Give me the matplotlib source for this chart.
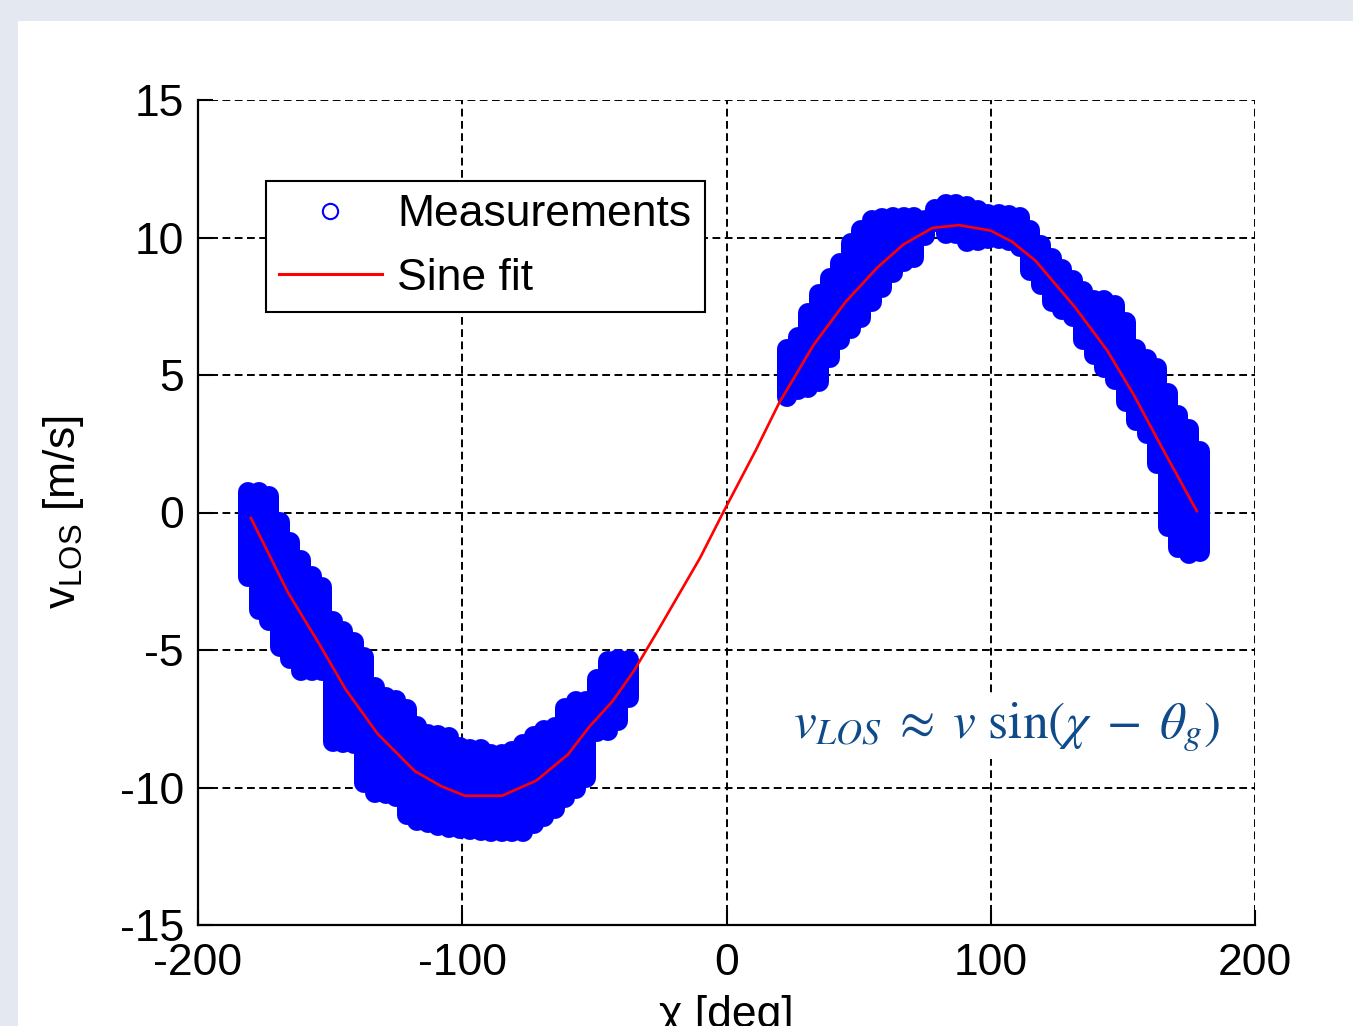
import matplotlib
matplotlib.use('Agg')
import matplotlib.pyplot as plt
from matplotlib.lines import Line2D
from matplotlib.patches import Rectangle

# measurement cloud, read column by column: angle [deg], upper / lower extent [m/s]
meas_x_left = [-181, -177, -173, -169, -165, -161, -157, -153, -149, -145, -141, -137,
               -133, -129, -125, -121, -117, -113, -109, -105, -101, -97, -93, -89,
               -85, -81, -77, -73, -69, -65, -61, -57, -53, -49, -45, -41, -37]
meas_top_left = [0.74, 0.74, 0.59, -0.36, -1.06, -1.71, -2.31, -2.71, -3.96, -4.31, -4.71, -5.26,
                 -6.36, -6.71, -6.81, -7.16, -7.76, -8.06, -8.08, -8.16, -8.53, -8.59, -8.59, -8.77,
                 -8.77, -8.66, -8.41, -8.11, -7.92, -7.81, -7.11, -6.87, -6.87, -6.06, -5.41, -5.32, -5.36]
meas_bot_left = [-2.35, -3.55, -3.95, -4.9, -5.34, -5.75, -5.75, -5.75, -8.34, -8.39, -8.42, -9.84,
                 -10.19, -10.24, -10.34, -10.99, -11.2, -11.29, -11.39, -11.49, -11.51, -11.54, -11.57, -11.63,
                 -11.63, -11.63, -11.63, -11.34, -11.09, -10.79, -10.39, -10.04, -9.64, -7.99, -7.94, -7.59, -6.74]

meas_x_right = [23, 27, 31, 35, 39, 43, 47, 51, 55, 59, 63, 67, 71, 75, 79, 83, 87, 91, 95, 99,
                103, 107, 111, 115, 119, 123, 127, 131, 135, 139, 143, 147, 151, 155, 159, 163, 167, 171, 175, 179]
meas_top_right = [5.94, 6.39, 7.24, 7.94, 8.54, 9.06, 9.79, 10.29, 10.62, 10.72, 10.74, 10.74, 10.74, 10.64,
                  11.04, 11.23, 11.23, 11.14, 10.99, 10.86, 10.84, 10.82, 10.74, 10.29, 9.74, 9.24, 8.84, 8.44,
                  8.04, 7.74, 7.71, 7.54, 6.94, 5.94, 5.59, 5.24, 4.34, 3.54, 3.04, 2.24]
meas_bot_right = [4.21, 4.46, 4.54, 4.76, 5.61, 6.26, 6.66, 7.06, 7.66, 8.16, 8.71, 9.11, 9.26, 10.06,
                  10.56, 10.13, 10.13, 9.83, 9.89, 9.96, 9.96, 9.86, 9.66, 8.8, 8.29, 7.66, 7.36, 7.11,
                  6.26, 5.71, 5.26, 4.81, 4.01, 3.31, 2.86, 1.76, -0.54, -1.29, -1.51, -1.44]

# sine fit curve
fit_x = [-180, -166, -154, -144, -132, -118, -108, -99, -85, -72, -60, -52, -43, -35, -26, -10, -1,
         11, 20, 33, 45, 57, 67, 78, 88, 100, 108, 117, 132, 144, 154, 164, 178]
fit_y = [-0.2, -2.9, -4.8, -6.45, -8.05, -9.4, -9.95, -10.3, -10.3, -9.75, -8.8, -7.8, -6.85, -5.75,
         -4.3, -1.65, 0.05, 2.25, 4.0, 6.1, 7.65, 8.9, 9.75, 10.35, 10.45, 10.25, 9.85, 9.15, 7.45,
         5.9, 4.3, 2.5, 0.05]

x_ticks = [-200, -100, 0, 100, 200]
y_ticks = [-15, -10, -5, 0, 5, 10, 15]

plt.rcParams['font.family'] = ['Liberation Sans', 'DejaVu Sans']
plt.rcParams['mathtext.fontset'] = 'custom'
plt.rcParams['mathtext.rm'] = 'Liberation Sans'
plt.rcParams['mathtext.it'] = 'Liberation Sans:italic'
plt.rcParams['axes.unicode_minus'] = False

W, H = 1353, 1026
fig = plt.figure(figsize=(W / 100, H / 100), dpi=100, facecolor='#e4e8f0')
fig.patches.append(Rectangle((18 / W, 0), 1 - 18 / W, 1005 / H, transform=fig.transFigure,
                             facecolor='white', edgecolor='none', zorder=-1))
ax = fig.add_axes([198 / W, 101 / H, 1057 / W, 825 / H])

# dense measurement cloud (thousands of overlapping circles)
for xs, top, bot in [(meas_x_left, meas_top_left, meas_bot_left),
                     (meas_x_right, meas_top_right, meas_bot_right)]:
    ax.vlines(xs, bot, top, colors='blue', linewidth=14.4, capstyle='round', zorder=2)

ax.plot(fit_x, fit_y, color='red', lw=1.9, zorder=3)

ax.set_xlim(-200, 200)
ax.set_ylim(-15, 15)
ax.set_xticks(x_ticks)
ax.set_yticks(y_ticks)
ax.grid(True, color='black', linestyle=(0, (4, 2.3)), linewidth=1.4)
for s in ['top', 'right']:
    ax.spines[s].set_visible(False)
for s in ['left', 'bottom']:
    ax.spines[s].set_linewidth(1.6)
ax.tick_params(direction='in', length=11, width=1.5, labelsize=32)
ax.tick_params(axis='x', pad=13)
ax.tick_params(axis='y', pad=10)

ax.set_ylabel(r'v$_{\mathrm{LOS}}$ [m/s]', fontsize=32)
ax.yaxis.set_label_coords(-0.106, 0.5)
ax.set_xlabel('χ [deg]', fontsize=32)
ax.xaxis.set_label_coords(0.5, -0.085)

h_meas = Line2D([], [], ls='none', marker='o', ms=11, mfc='none', mec='blue', mew=1.5)
h_fit = Line2D([], [], color='red', lw=2.2)
leg = ax.legend([h_meas, h_fit], ['Measurements', 'Sine fit'], loc='upper left',
                bbox_to_anchor=(0.0643, 0.9018), borderaxespad=0, fontsize=32,
                fancybox=False, edgecolor='black', framealpha=1, handlelength=2.3,
                handletextpad=0.35, labelspacing=0.5, borderpad=0.3)
leg.get_frame().set_linewidth(1.5)

ax.text(25.1, -7.8, r'$v_{LOS}\;\approx\;v\ \sin(\chi\;-\;\theta_g)$', fontsize=37,
        color='#0f4a8a', math_fontfamily='stix', va='center', ha='left', zorder=4,
        bbox=dict(facecolor='white', edgecolor='none', pad=4))

fig.savefig('out.png', dpi=100, facecolor=fig.get_facecolor())
